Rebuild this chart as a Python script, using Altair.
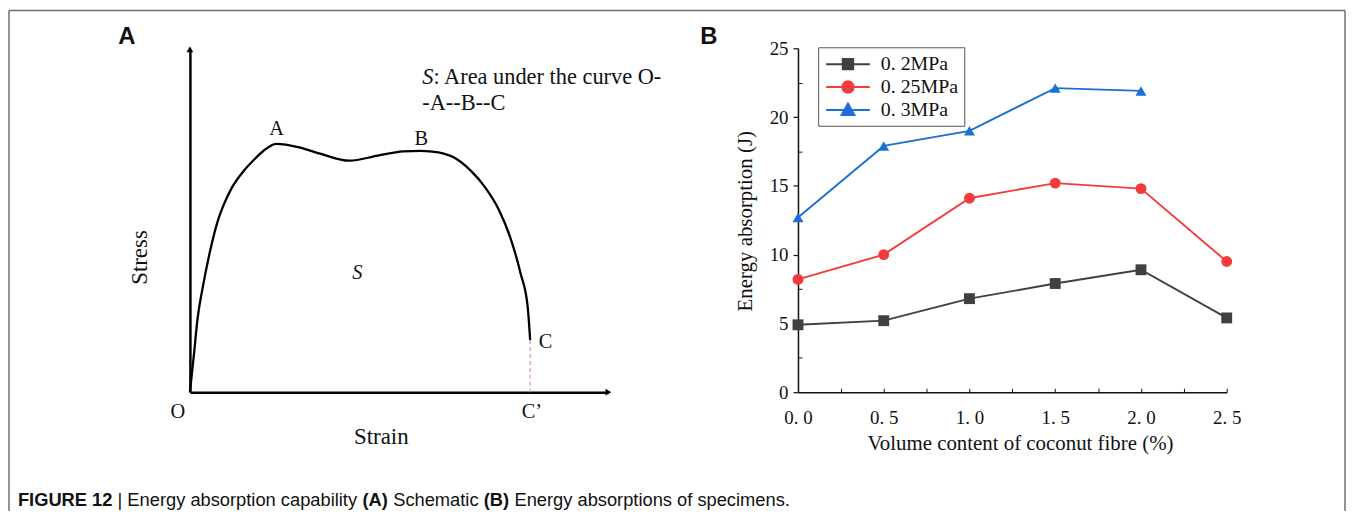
import altair as alt
import pandas as pd

# ---------------- data : panel B ----------------
fibre = [0.0, 0.5, 1.0, 1.5, 2.0, 2.5]
e_02 = [4.9, 5.2, 6.8, 7.9, 8.9, 5.4]
e_025 = [8.2, 10.0, 14.1, 15.2, 14.8, 9.5]
e_03 = [12.7, 17.9, 19.0, 22.1, 21.9]
series_names = ["0. 2MPa", "0. 25MPa", "0. 3MPa"]
x_ticks = [0.0, 0.5, 1.0, 1.5, 2.0, 2.5]
x_minor = [0.25, 0.5, 0.75, 1.0, 1.25, 1.5, 1.75, 2.0, 2.25, 2.5]
y_ticks = [0, 5, 10, 15, 20, 25]
y_minor = [2.5, 7.5, 12.5, 17.5, 22.5]

# ---------------- data : panel A (schematic curve) ----------------
strain = [0.00, 0.10, 0.18, 0.31, 0.47, 0.67, 0.82, 1.01, 1.29, 1.51, 1.76, 2.06,
          2.61, 3.13, 3.81, 4.49, 5.09, 5.52, 5.94, 6.37, 6.71, 7.05, 7.39, 7.65,
          7.90, 8.07, 8.13]
stress = [0.00, 1.15, 2.12, 3.08, 4.05, 5.01, 5.50, 5.98, 6.46, 6.75, 7.04, 7.24,
          7.14, 6.95, 6.75, 6.90, 7.02, 7.04, 6.99, 6.80, 6.46, 5.98, 5.30, 4.53,
          3.47, 2.50, 1.52]
point_labels = ["A", "B", "C", "C\u2019", "O"]
label_strain = [2.07, 5.53, 8.50, 8.17, -0.29]
label_stress = [7.68, 7.38, 1.45, -0.57, -0.57]

# ---------------- layout ----------------
W, H = 1344, 502
AXIS_Y = 384
AX0, AX1, AY_TOP = 182, 603, 39
BX0, BX1, BY_TOP = 793.7, 1225, 38
SERIF = "Liberation Serif"
SANS = "Liberation Sans"
colors = ["#404040", "#f23c3c", "#1c6fd4"]
legend_paths = [
    "M-2.2,0H2.2M-0.52,-0.52H0.52V0.52H-0.52Z",
    "M-2.2,0H2.2M0.57,0A0.57,0.57 0 1,1 -0.57,0A0.57,0.57 0 1,1 0.57,0Z",
    "M-2.2,0H2.2M0,-0.64L0.64,0.52H-0.64Z",
]

# ---------------- panel A ----------------
df_curve = pd.DataFrame({"strain": strain, "stress": stress})
AX = alt.X("strain:Q",
           scale=alt.Scale(domain=[0, 10], range=[AX0, AX1], nice=False, zero=False),
           axis=alt.Axis(orient="bottom", offset=AXIS_Y - H, domain=True, domainColor="black",
                         domainWidth=2.5, ticks=False, labels=False, grid=False,
                         title="Strain", titleFont=SERIF, titleFontSize=23,
                         titleFontWeight="normal", titleColor="#111",
                         titleX=374, titleY=45, titleBaseline="middle"))
AY = alt.Y("stress:Q",
           scale=alt.Scale(domain=[0, 10], range=[AXIS_Y, AY_TOP], nice=False, zero=False),
           axis=alt.Axis(orient="left", offset=-AX0, domain=True, domainColor="black",
                         domainWidth=2.5, ticks=False, labels=False, grid=False,
                         title="Stress", titleFont=SERIF, titleFontSize=23,
                         titleFontWeight="normal", titleColor="#111", titleAngle=270,
                         titleX=-51, titleY=248, titleBaseline="middle"))

curve = alt.Chart(df_curve).mark_line(interpolate="monotone", color="black",
                                      strokeWidth=2.3).encode(x=AX, y=AY)

df_c = pd.DataFrame({"strain": [strain[-1]], "stress": [stress[-1]], "stress0": [0.0]})
c_rule = alt.Chart(df_c).mark_rule(color="#d4a3aa", strokeDash=[4, 3], strokeWidth=1.3).encode(
    x=AX, y=AY, y2="stress0:Q")

arrow_up = alt.Chart(pd.DataFrame({"strain": [0.0], "stress": [10.0]})).mark_point(
    shape="triangle-up", filled=True, color="black", size=45, opacity=1).encode(x=AX, y=AY)
arrow_right = alt.Chart(pd.DataFrame({"strain": [10.0], "stress": [0.0]})).mark_point(
    shape="triangle-right", filled=True, color="black", size=45, opacity=1).encode(x=AX, y=AY)

df_lab = pd.DataFrame({"strain": label_strain, "stress": label_stress, "label": point_labels})
labels_a = alt.Chart(df_lab).mark_text(font=SERIF, fontSize=20.5, color="#111",
                                       baseline="middle", align="center").encode(
    x=AX, y=AY, text="label:N")

s_mark = alt.Chart(pd.DataFrame({"strain": [4.0], "stress": [3.47]})).mark_text(
    font=SERIF, fontSize=20.5, fontStyle="italic", color="#111", baseline="middle",
    align="center").encode(x=AX, y=AY, text=alt.value("S"))

NOTE_FS = 22.5
note1s = alt.Chart(pd.DataFrame({"strain": [5.55], "stress": [9.2]})).mark_text(
    font=SERIF, fontSize=NOTE_FS, fontStyle="italic", color="#111", baseline="middle",
    align="left").encode(x=AX, y=AY, text=alt.value("S"))
note1 = alt.Chart(pd.DataFrame({"strain": [5.82], "stress": [9.2]})).mark_text(
    font=SERIF, fontSize=NOTE_FS, color="#111", baseline="middle", align="left").encode(
    x=AX, y=AY, text=alt.value(": Area under the curve O-"))
note2 = alt.Chart(pd.DataFrame({"strain": [5.55], "stress": [8.43]})).mark_text(
    font=SERIF, fontSize=NOTE_FS, color="#111", baseline="middle", align="left").encode(
    x=AX, y=AY, text=alt.value("-A--B--C"))

panel_a = alt.layer(curve, c_rule, arrow_up, arrow_right, labels_a, s_mark, note1s, note1, note2)

# ---------------- panel B ----------------
rows = []
for name, vals in zip(series_names, [e_02, e_025, e_03]):
    for xv, yv in zip(fibre, vals):
        rows.append({"series": name, "fibre": xv, "energy": yv})
df_b = pd.DataFrame(rows)

bx_scale = alt.Scale(domain=[0, 2.5], range=[BX0, BX1], nice=False, zero=False)
by_scale = alt.Scale(domain=[0, 25], range=[AXIS_Y, BY_TOP], nice=False, zero=False)

BX = alt.X("fibre:Q", scale=bx_scale,
           axis=alt.Axis(orient="bottom", offset=AXIS_Y - H, values=x_ticks,
                         labelExpr="replace(format(datum.value, '.1f'), '.', '. ')",
                         tickSize=0, labelBaseline="middle", labelPadding=25.5,
                         labelFont=SERIF, labelFontSize=19, labelColor="#111",
                         labelFlush=False, labelOverlap=False,
                         domainColor="#111", domainWidth=1.5, grid=False,
                         title="Volume content of coconut fibre (%)", titleFont=SERIF,
                         titleFontSize=21, titleFontWeight="normal", titleColor="#111",
                         titleX=1017, titleY=52, titleBaseline="middle"))
BY = alt.Y("energy:Q", scale=by_scale,
           axis=alt.Axis(orient="left", offset=-BX0, values=y_ticks, tickSize=5,
                         tickColor="#111", tickWidth=1.2, labelPadding=5,
                         labelFont=SERIF, labelFontSize=19, labelColor="#111",
                         labelFlush=False, domainColor="#111", domainWidth=1.5, grid=False,
                         title="Energy absorption (J)", titleFont=SERIF, titleFontSize=21,
                         titleFontWeight="normal", titleColor="#111", titleAngle=270,
                         titleX=-53, titleY=211.5, titleBaseline="middle"))

color_enc = alt.Color("series:N", scale=alt.Scale(domain=series_names, range=colors), legend=None)
lines_b = alt.Chart(df_b).mark_line(strokeWidth=1.9).encode(x=BX, y=BY, color=color_enc)
points_b = alt.Chart(df_b).mark_point(filled=True, size=120, opacity=1).encode(
    x=BX, y=BY, color=color_enc,
    shape=alt.Shape("series:N", scale=alt.Scale(domain=series_names,
                                                range=["square", "circle", "triangle-up"]),
                    legend=None))
panel_b = alt.layer(lines_b, points_b)

minor_ticks = alt.Chart(df_b).mark_point(opacity=0).encode(
    x=alt.X("fibre:Q", scale=bx_scale,
            axis=alt.Axis(orient="top", offset=-AXIS_Y, values=x_minor, tickSize=4,
                          tickColor="#111", labels=False, domain=False, grid=False, title=None)),
    y=alt.Y("energy:Q", scale=by_scale,
            axis=alt.Axis(orient="right", offset=BX0 - W, values=y_minor, tickSize=4,
                          tickColor="#111", labels=False, domain=False, grid=False, title=None)))

leg = alt.Legend(title=None, orient="none", legendX=814, legendY=37, direction="vertical",
                 symbolSize=400, symbolStrokeWidth=2, symbolOffset=13, labelOffset=22,
                 labelFont=SERIF, labelFontSize=20, labelColor="#111", labelLimit=0,
                 strokeColor="#555", fillColor="white", padding=6, rowPadding=2,
                 symbolOpacity=1)
legend_layer = alt.Chart(pd.DataFrame({"series": series_names})).mark_point(
    filled=True, size=30).encode(
    x=alt.value(-300), y=alt.value(-300),
    fill=alt.Fill("series:N", scale=alt.Scale(domain=series_names, range=colors), legend=leg),
    stroke=alt.Stroke("series:N", scale=alt.Scale(domain=series_names, range=colors), legend=leg),
    shape=alt.Shape("series:N", scale=alt.Scale(domain=series_names, range=legend_paths), legend=leg))

# ---------------- decorations ----------------
one = pd.DataFrame({"k": [0]})
FRAME = "#707070"
frame_l = alt.Chart(one).mark_rule(color=FRAME, strokeWidth=1.5).encode(
    x=alt.value(0), y=alt.value(0), y2=alt.value(H + 10))
frame_r = alt.Chart(one).mark_rule(color=FRAME, strokeWidth=1.5).encode(
    x=alt.value(W), y=alt.value(0), y2=alt.value(H + 10))
frame_t = alt.Chart(one).mark_rule(color=FRAME, strokeWidth=1.5).encode(
    x=alt.value(0), x2=alt.value(W), y=alt.value(0))


def txt(s, x, y, size, weight="normal", font=SANS, baseline="alphabetic", align="left"):
    return alt.Chart(one).mark_text(font=font, fontSize=size, fontWeight=weight, color="#111",
                                    baseline=baseline, align=align).encode(
        x=alt.value(x), y=alt.value(y), text=alt.value(s))


letter_a = txt("A", 118.5, 27, 24, "bold", baseline="middle", align="center")
letter_b = txt("B", 704, 27, 24, "bold", baseline="middle", align="center")
CAP_Y = 498
CAP_FS = 18.4
cap = [
    txt("FIGURE 12", 9, CAP_Y, CAP_FS, "bold"),
    txt("| Energy absorption capability", 109.2, CAP_Y, CAP_FS),
    txt("(A)", 355.5, CAP_Y, CAP_FS, "bold"),
    txt("Schematic", 386.5, CAP_Y, CAP_FS),
    txt("(B)", 477.5, CAP_Y, CAP_FS, "bold"),
    txt("Energy absorptions of specimens.", 508.5, CAP_Y, CAP_FS),
]

chart = alt.layer(
    panel_a, panel_b, minor_ticks, legend_layer, frame_l, frame_r, frame_t,
    letter_a, letter_b, *cap
).resolve_scale(
    x="independent", y="independent", shape="independent", color="independent",
    fill="independent", stroke="independent"
).properties(
    width=W, height=H,
    padding={"left": 1, "top": 1, "right": 2, "bottom": 0},
    autosize=alt.AutoSizeParams(type="none"),
).configure_view(stroke=None).configure_axis(grid=False)

chart.save("out.html", embed_options={"renderer": "svg", "actions": False})
